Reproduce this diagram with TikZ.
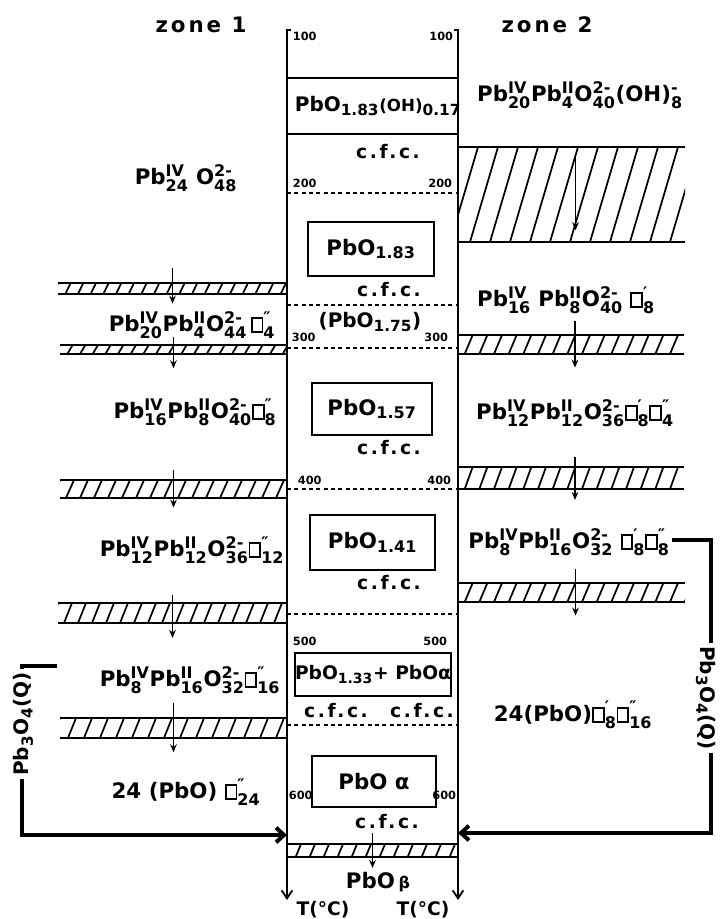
\documentclass[tikz,border=0pt]{standalone}
\usepackage{amsmath}
\usepackage{fontspec}
\setmainfont{DejaVu Sans}
\usetikzlibrary{positioning,arrows.meta,fit,calc}
\DeclareMathSizes{16}{16}{12}{9}
\DeclareMathSizes{15}{15}{11.5}{8.5}
\DeclareMathSizes{14}{14}{10.5}{8}

\newcommand\fmfont{\fontsize{16}{19}\selectfont\bfseries}
\newcommand\zonefont{\fontsize{16}{19}\selectfont\bfseries\addfontfeature{LetterSpace=14}}
\newcommand\cfcfont{\fontsize{14}{16}\selectfont\bfseries\addfontfeature{LetterSpace=14}}
\newcommand\numfont{\fontsize{8.5}{9}\selectfont\bfseries}
\newcommand\spc[3]{#1$^{\text{#2}}_{\text{#3}}$}
\newcommand\vac{{\setlength\fboxsep{0pt}\setlength\fboxrule{1.4pt}\fbox{\rule{0pt}{0.6em}\rule{0.42em}{0pt}}}}

\begin{document}
\begin{tikzpicture}[x=0.75pt, y=-0.75pt,
  formula/.style={font=\fmfont, inner sep=1pt},
  cfc/.style={font=\cfcfont, inner sep=1pt},
  num/.style={font=\numfont, inner sep=0.5pt},
  qlabel/.style={font=\fontsize{15}{18}\selectfont\bfseries, fill=white, inner sep=2pt},
  phasebox/.style={draw, line width=1.7pt, inner sep=0pt},
  axisline/.style={line width=1.4pt, -{Straight Barb[length=6pt,width=8pt]}},
  sepline/.style={line width=1.7pt},
  sepdash/.style={line width=1pt, dash pattern=on 3pt off 2.5pt},
  bandedge/.style={line width=1.7pt},
  band/.style 2 args={inner sep=0pt, path picture={
      \foreach \k in {0,...,32}
        \draw[line width=1.3pt] ([xshift=\k*#1-#2]path picture bounding box.south west)
          -- ([xshift=\k*#1]path picture bounding box.north west);
    }},
  flow/.style={line width=1.3pt, -{Stealth[length=6pt,width=5pt]}},
  feed/.style={line width=3pt, -{Straight Barb[length=6pt,width=11pt]}},
  ]
  \useasboundingbox (0,0) rectangle (727,919);

  % temperature axes
  \coordinate (axL-top) at (287,30);
  \coordinate (axL-bot) at (287,900);
  \coordinate (axR-top) at (458,30);
  \coordinate (axR-bot) at (458,900);
  \draw[axisline] ([xshift=3pt]axL-top) -- (axL-top) -- (axL-bot);
  \draw[axisline] ([xshift=-3pt]axR-top) -- (axR-top) -- (axR-bot);

  % limits inside the column
  \draw[sepline] (287,78) -- (458,78) (287,134) -- (458,134);
  \foreach \y in {193,305,348,489,614,725}
    \draw[sepdash] (287,\y) -- (458,\y);

  % temperatures
  \foreach \t/\yl/\xl/\xr in {100/36/292/454, 200/183/292/453, 300/337/291/449,
      400/480/297/452, 500/641/292/448, 600/795/288/457}{
    \node[num, anchor=west] (tL\t) at (\xl,\yl) {\t};
    \node[num, anchor=east] (tR\t) at (\xr,\yl) {\t};
  }

  % hatched transition bands
  \node[band={9.5pt}{4pt}, fit={(58,283) (287,294)}] (L1) {};
  \node[band={9.5pt}{4pt}, fit={(60,345) (287,354)}] (L2) {};
  \node[band={10.5pt}{6pt}, fit={(60,480) (287,498)}] (L3) {};
  \node[band={10.5pt}{6pt}, fit={(58,603) (287,623)}] (L4) {};
  \node[band={12pt}{6pt}, fit={(60,718) (287,738)}] (L5) {};
  \node[band={15pt}{21pt}, fit={(458,147) (685,242)}] (R1) {};
  \node[band={11pt}{6pt}, fit={(458,335) (684,354)}] (R2) {};
  \node[band={11pt}{6pt}, fit={(458,467) (684,489)}] (R3) {};
  \node[band={11pt}{6pt}, fit={(458,583) (685,602)}] (R4) {};
  \node[band={10.5pt}{4pt}, fit={(287,844) (458,857)}] (B1) {};
  \foreach \b in {L1,L2,L3,L4,L5,R1,R2,R3,R4,B1}
    \draw[bandedge] (\b.north west) -- (\b.north east) (\b.south west) -- (\b.south east);

  \draw[flow, shorten <=-11pt, shorten >=-7pt] (L1.north) -- (L1.south);
  \draw[flow, shorten <=-6pt, shorten >=-10.5pt] (L2.north) -- (L2.south);
  \draw[flow, shorten <=-7.5pt, shorten >=-7pt] (L3.north) -- (L3.south);
  \draw[flow, shorten <=-6pt, shorten >=-11pt] (L4.north) -- (L4.south);
  \draw[flow, shorten <=-11pt, shorten >=-10.5pt] (L5.north) -- (L5.south);
  \draw[flow, shorten <=7.5pt, shorten >=9pt] ([xshift=3pt]R1.north) -- ([xshift=3pt]R1.south);
  \draw[flow, shorten <=-10pt, shorten >=-10pt] ([xshift=3pt]R2.north) -- ([xshift=3pt]R2.south);
  \draw[flow, shorten <=-7.5pt, shorten >=-8pt] ([xshift=3pt]R3.north) -- ([xshift=3pt]R3.south);
  \draw[flow, shorten <=-10pt, shorten >=-10pt] ([xshift=3pt]R4.north) -- ([xshift=3pt]R4.south);
  \draw[flow, shorten <=-8pt, shorten >=-8pt] (B1.north) -- (B1.south);

  % zone headings
  \node[font=\zonefont] (zone1) at (201,25) {zone 1};
  \node[font=\zonefont] (zone2) at (547,25) {zone 2};

  % zone 1
  \node[formula] (l48) at (186,178) {\spc{Pb}{IV}{24} \spc{O}{2-}{48}};
  \node[formula] (l44) at (192,325) {\spc{Pb}{IV}{20}\spc{Pb}{II}{4}\spc{O}{2-}{44}\,\spc{\vac}{″}{4}};
  \node[formula] (l40) at (195,412) {\spc{Pb}{IV}{16}\spc{Pb}{II}{8}\spc{O}{2-}{40}\spc{\vac}{″}{8}};
  \node[formula] (l36) at (192,550) {\spc{Pb}{IV}{12}\spc{Pb}{II}{12}\spc{O}{2-}{36}\spc{\vac}{″}{12}};
  \node[formula] (l32) at (190,680) {\spc{Pb}{IV}{8}\spc{Pb}{II}{16}\spc{O}{2-}{32}\spc{\vac}{″}{16}};
  \node[formula] (l24) at (186,792) {24 (PbO) \spc{\vac}{″}{24}};

  % zone 2
  \node[formula] (r40) at (580,95) {\spc{Pb}{IV}{20}\spc{Pb}{II}{4}\spc{O}{2-}{40}\spc{(OH)}{-}{8}};
  \node[formula] (r8) at (566,300) {\spc{Pb}{IV}{16} \spc{Pb}{II}{8}\spc{O}{2-}{40} \spc{\vac}{′}{8}};
  \node[formula] (r36) at (575,413) {\spc{Pb}{IV}{12}\spc{Pb}{II}{12}\spc{O}{2-}{36}\spc{\vac}{′}{8}\spc{\vac}{″}{4}};
  \node[formula] (r32) at (569,542) {\spc{Pb}{IV}{8}\spc{Pb}{II}{16}\spc{O}{2-}{32} \spc{\vac}{′}{8}\spc{\vac}{″}{8}};
  \node[formula] (r16) at (573,715) {24(PbO)\spc{\vac}{′}{8}\spc{\vac}{″}{16}};

  % phases in the column
  \node[formula, font=\fontsize{15}{18}\selectfont\bfseries] (c017) at (378,106)
    {PbO$_{\text{1.83}}${\fontsize{12.5}{14}\selectfont(OH)}$_{\text{0.17}}$};
  \node[cfc] (cfc1) at (388,152) {c.f.c.};
  \node[phasebox, fit={(308,222) (434,276)}] (p183) {};
  \node[formula] (p183t) at (p183.center) {PbO$_{\text{1.83}}$};
  \node[cfc] (cfc2) at (389,290) {c.f.c.};
  \node[formula, font=\fontsize{15}{18}\selectfont\bfseries] (p175) at (370,322) {(PbO$_{\text{1.75}}$)};
  \node[phasebox, fit={(312,383) (432,435)}] (p157) {};
  \node[formula] (p157t) at (p157.center) {PbO$_{\text{1.57}}$};
  \node[cfc] (cfc3) at (389,448) {c.f.c.};
  \node[phasebox, fit={(310,515) (435,570)}] (p141) {};
  \node[formula] (p141t) at (p141.center) {PbO$_{\text{1.41}}$};
  \node[cfc] (cfc4) at (389,583) {c.f.c.};
  \node[phasebox, fit={(295,653) (451,696)}] (p133) {};
  \node[formula, font=\fontsize{14}{16}\selectfont\bfseries] (p133t) at (p133.center)
    {PbO$_{\text{1.33}}$+ PbOα};
  \node[cfc] (cfc5) at (336,711) {c.f.c.};
  \node[cfc] (cfc6) at (422,711) {c.f.c.};
  \node[phasebox, fit={(312,756) (436,807)}] (palpha) {};
  \node[formula] (palphat) at (palpha.center) {PbO α};
  \node[cfc] (cfc7) at (387,822) {c.f.c.};
  \node[formula] (pbeta) at (378,882) {PbO\,{\fontsize{12}{14}\selectfont β}};
  \node[formula, font=\fontsize{14}{16}\selectfont\bfseries] (unitL) at (323,910) {T(°C)};
  \node[formula, font=\fontsize{14}{16}\selectfont\bfseries] (unitR) at (423,910) {T(°C)};

  % Pb3O4 feeds
  \coordinate (lq-a) at (57,666);
  \coordinate (lq-b) at (22,666);
  \coordinate (lq-c) at (22,835);
  \draw[feed] (lq-a) -- (lq-b) -- (lq-c) -- (axL-top |- lq-c);
  \node[qlabel, rotate=90] (lq) at (23,724) {Pb$_{\text{3}}$O$_{\text{4}}$(Q)};
  \coordinate (rq-a) at (672,540);
  \coordinate (rq-b) at (711,540);
  \coordinate (rq-c) at (711,833);
  \draw[feed] (rq-a) -- (rq-b) -- (rq-c) -- (axR-top |- rq-c);
  \node[qlabel, rotate=-90] (rq) at (706,698) {Pb$_{\text{3}}$O$_{\text{4}}$(Q)};
\end{tikzpicture}
\end{document}
